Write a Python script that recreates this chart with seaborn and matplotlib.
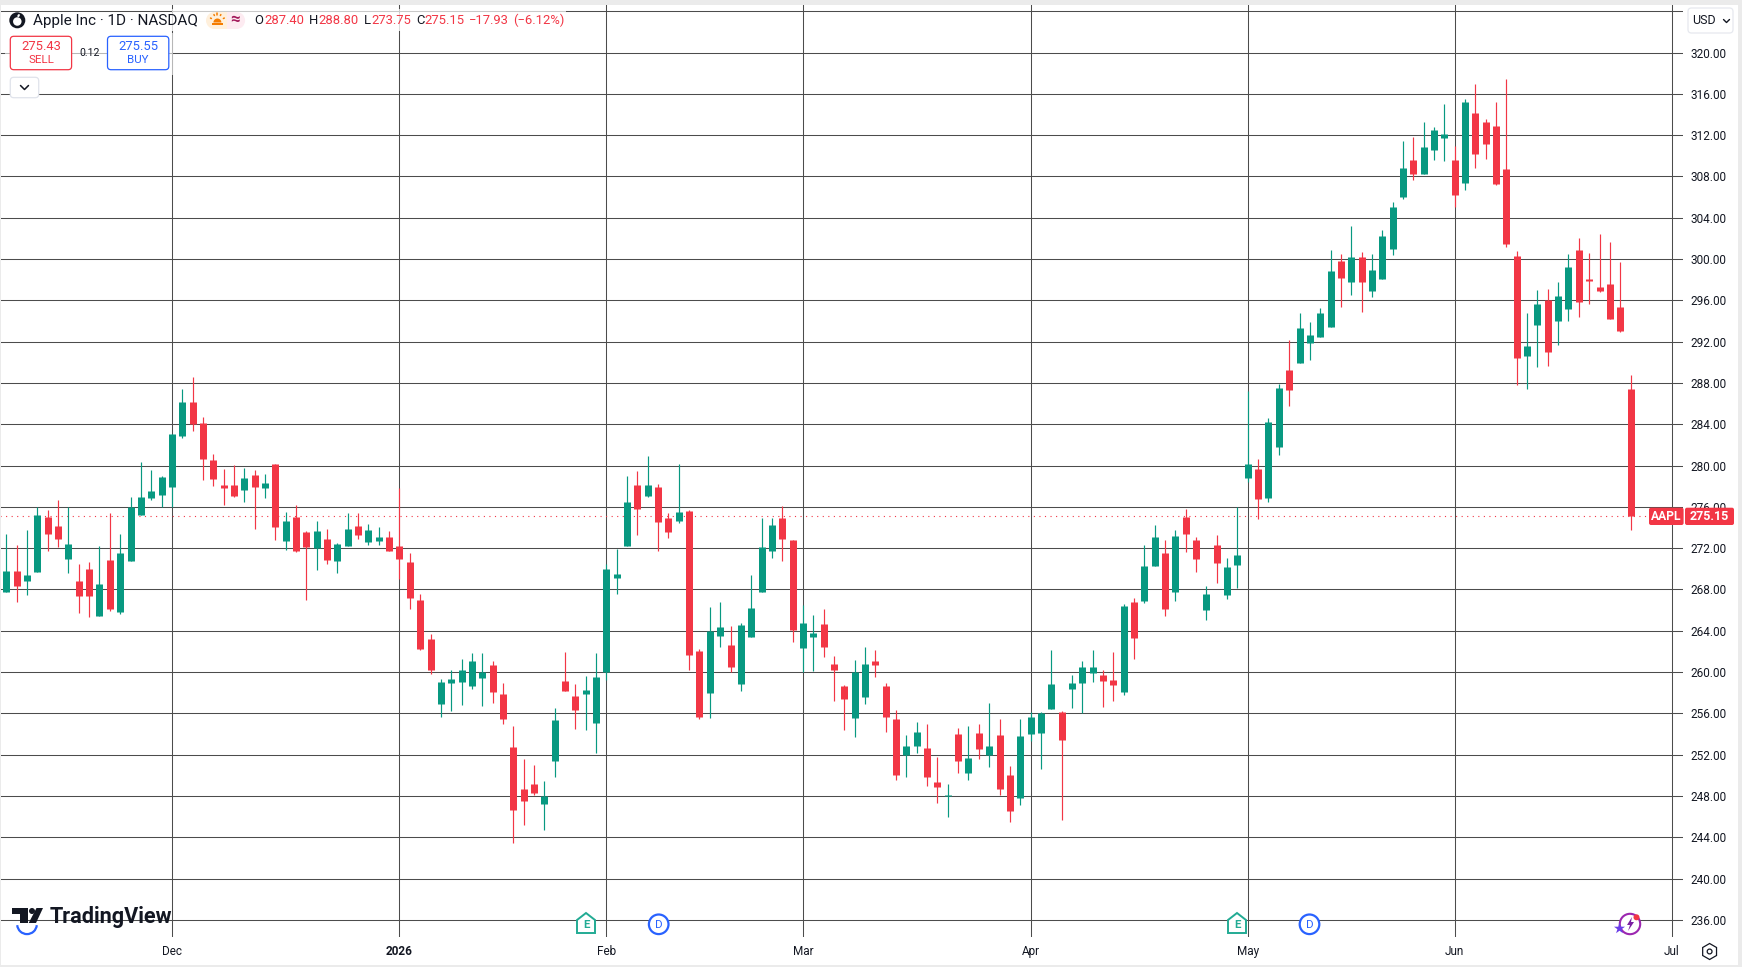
import numpy as np
import pandas as pd
import seaborn as sns
import matplotlib.pyplot as plt
from matplotlib.patches import Rectangle, FancyBboxPatch, Circle, Ellipse, Polygon, Arc, Wedge

# daily AAPL bars, one value per bar
opens = [267.80, 269.83, 268.87, 269.74, 275.06, 274.19, 271.00, 268.87, 270.03, 265.48,
         270.90, 265.86, 270.80, 275.26, 276.90, 277.19, 277.97, 282.91, 286.20, 284.17,
         280.58, 278.16, 278.16, 277.68, 279.13, 277.87, 280.20, 272.74, 275.06, 273.61,
         272.06, 272.93, 270.80, 272.26, 274.19, 272.64, 272.74, 273.13, 272.26, 270.71,
         267.02, 263.25, 256.95, 258.99, 259.08, 258.69, 259.47, 260.73, 257.92, 252.79,
         248.72, 249.20, 247.27, 251.43, 259.18, 257.73, 257.92, 255.11, 260.02, 269.15,
         272.25, 278.16, 277.10, 277.97, 274.97, 274.67, 275.64, 262.08, 258.02, 263.54,
         262.67, 258.89, 263.44, 267.80, 271.77, 274.97, 272.83, 262.37, 263.44, 264.70,
         260.83, 258.70, 255.60, 257.63, 261.12, 258.70, 255.50, 251.98, 252.89, 252.69,
         249.40, 247.97, 254.05, 250.27, 254.15, 251.98, 253.95, 250.08, 247.85, 254.05,
         254.15, 256.47, 256.18, 258.41, 258.99, 259.96, 259.76, 259.28, 258.12, 266.83,
         266.93, 270.32, 271.58, 267.80, 275.06, 272.84, 266.06, 272.35, 267.51, 270.42,
         278.83, 279.71, 276.90, 281.84, 289.30, 289.97, 291.91, 292.49, 293.46, 299.85,
         297.82, 300.24, 296.95, 298.11, 301.01, 306.06, 309.64, 308.28, 310.60, 311.77,
         309.63, 307.41, 314.19, 313.32, 312.93, 308.76, 300.34, 290.65, 293.65, 296.08,
         294.04, 295.20, 300.92, 298.11, 297.33, 297.63, 295.40, 287.40]
highs = [273.42, 272.35, 273.81, 276.00, 275.74, 276.71, 276.00, 270.51, 270.71, 272.26,
         275.45, 273.42, 277.00, 280.39, 279.62, 279.04, 283.10, 287.46, 288.62, 284.75,
         281.17, 279.71, 280.10, 279.81, 279.62, 279.23, 280.20, 275.55, 276.23, 273.71,
         274.68, 273.90, 272.55, 275.45, 275.45, 274.39, 274.10, 273.71, 277.87, 271.58,
         267.60, 263.73, 259.37, 260.24, 261.31, 261.89, 261.89, 261.12, 258.99, 254.82,
         251.62, 251.04, 249.49, 256.56, 261.99, 258.89, 259.66, 261.89, 270.51, 271.96,
         279.03, 279.52, 280.97, 278.26, 275.45, 280.20, 275.74, 262.28, 266.35, 266.83,
         264.51, 264.80, 269.44, 274.97, 274.97, 276.13, 272.83, 266.54, 265.57, 266.15,
         261.60, 258.79, 261.22, 262.47, 262.18, 258.99, 256.37, 253.95, 255.21, 255.02,
         251.82, 249.21, 254.63, 254.82, 255.02, 257.05, 255.50, 250.95, 255.50, 256.18,
         256.18, 262.18, 256.28, 259.76, 261.12, 262.18, 260.25, 261.99, 266.64, 267.22,
         272.35, 274.29, 272.84, 273.81, 275.84, 273.13, 268.38, 273.32, 271.09, 276.00,
         287.26, 280.68, 284.65, 287.94, 292.20, 294.82, 293.94, 295.30, 300.92, 300.53,
         303.24, 300.72, 300.53, 302.85, 305.57, 311.48, 311.87, 313.32, 312.83, 315.06,
         310.99, 315.54, 317.00, 313.61, 315.25, 317.48, 300.82, 294.82, 297.04, 297.14,
         297.82, 300.53, 302.08, 300.63, 302.47, 301.69, 299.76, 288.80]
lows = [267.80, 266.83, 267.51, 269.74, 271.77, 272.16, 269.64, 265.77, 265.38, 265.48,
        265.96, 265.67, 270.80, 275.26, 276.71, 276.00, 276.00, 282.72, 283.39, 278.65,
        278.07, 276.23, 277.00, 276.52, 273.90, 276.90, 272.84, 271.87, 271.67, 267.03,
        269.93, 270.51, 269.64, 272.26, 272.93, 272.35, 272.35, 271.77, 269.06, 266.15,
        262.18, 259.86, 255.69, 256.27, 256.85, 258.40, 256.76, 257.05, 255.01, 243.49,
        245.23, 248.14, 244.75, 249.88, 258.21, 254.53, 254.43, 252.21, 259.28, 267.60,
        272.25, 273.32, 277.00, 271.77, 273.03, 274.48, 260.24, 255.50, 255.59, 262.47,
        260.02, 258.21, 263.44, 267.80, 271.09, 270.80, 262.96, 260.02, 260.15, 261.51,
        257.24, 254.44, 253.76, 256.95, 259.57, 254.24, 249.59, 249.88, 252.21, 249.01,
        247.37, 246.01, 250.27, 249.59, 251.63, 250.85, 248.14, 245.52, 247.17, 253.37,
        250.66, 256.47, 245.72, 256.57, 256.05, 259.08, 256.66, 257.24, 257.83, 261.31,
        266.74, 270.32, 265.48, 266.93, 271.68, 269.74, 265.09, 268.67, 267.12, 268.19,
        278.45, 274.86, 276.51, 281.06, 285.81, 289.97, 290.26, 292.49, 293.46, 295.40,
        296.56, 294.91, 296.37, 298.11, 300.43, 305.86, 307.70, 308.28, 309.63, 309.54,
        305.08, 306.73, 308.86, 309.73, 307.21, 301.21, 287.84, 287.46, 289.59, 289.68,
        291.72, 294.04, 294.43, 295.69, 296.85, 294.24, 292.98, 273.75]
closes = [269.83, 268.38, 269.45, 275.26, 273.42, 272.93, 272.45, 267.41, 267.41, 268.58,
          266.15, 271.58, 276.00, 277.00, 277.58, 278.94, 283.10, 286.20, 284.07, 280.68,
          278.74, 277.87, 277.10, 278.84, 277.97, 278.36, 274.10, 274.68, 271.77, 272.16,
          273.71, 270.90, 272.45, 273.90, 273.32, 273.81, 273.13, 271.77, 271.00, 267.22,
          262.28, 260.24, 259.08, 259.37, 260.24, 261.12, 260.02, 258.11, 255.50, 246.68,
          247.56, 248.33, 248.04, 255.40, 258.21, 256.37, 258.31, 259.57, 270.03, 269.54,
          276.52, 275.84, 278.16, 274.58, 273.61, 275.55, 261.70, 255.69, 263.96, 264.41,
          260.53, 264.60, 266.25, 272.16, 274.29, 272.93, 264.12, 264.80, 263.83, 262.47,
          260.25, 257.44, 260.02, 260.83, 260.73, 255.69, 250.08, 252.89, 254.24, 249.88,
          248.91, 248.07, 251.43, 251.72, 252.60, 252.89, 248.72, 246.59, 253.85, 255.69,
          256.05, 258.89, 253.47, 258.99, 260.54, 260.54, 259.18, 258.79, 266.45, 263.35,
          270.32, 273.13, 266.15, 273.22, 273.42, 271.00, 267.61, 270.61, 270.22, 271.38,
          280.19, 276.80, 284.26, 287.55, 287.36, 293.36, 292.68, 294.82, 298.88, 298.21,
          300.24, 297.82, 298.98, 302.27, 305.08, 308.87, 308.28, 310.89, 312.54, 312.15,
          306.24, 315.25, 310.22, 311.18, 307.31, 301.50, 290.46, 291.62, 295.69, 291.04,
          296.46, 299.27, 295.88, 297.92, 296.95, 294.24, 293.07, 275.15]

month_bars = [16, 38, 58, 77, 99, 120, 140, 161]
month_labels = ['Dec', '2026', 'Feb', 'Mar', 'Apr', 'May', 'Jun', 'Jul']
price_ticks = list(range(236, 328, 4))
last_price = 275.15

GREEN = '#089981'
RED = '#f23645'
BLUE = '#2962ff'
INK = '#131722'
GRID = '#4c4c4c'

sns.set_theme(style='white')
plt.rcParams['font.family'] = ['Roboto', 'DejaVu Sans']

bars = np.arange(len(closes))
direction = np.where(np.array(closes) >= np.array(opens), 'up', 'down')
palette = {'up': GREEN, 'down': RED}
wicks = pd.DataFrame({'bar': np.tile(bars, 2), 'price': lows + highs, 'dir': np.tile(direction, 2)})
bodies = pd.DataFrame({'bar': np.tile(bars, 2), 'price': opens + closes, 'dir': np.tile(direction, 2)})

W, H = 1742, 967
fig = plt.figure(figsize=(W / 100, H / 100), dpi=100, facecolor='white')
ax = fig.add_axes([0, (H - 937) / H, 1683 / W, 933 / H])


def bar_at(px):
    return 16 + (px - 171.9) / 10.345


def price_at(py):
    return 316 - (py - 93.9) / 10.325


ax.hlines(last_price, bar_at(0), bar_at(1683), color=RED, lw=0.8, linestyle=(0, (1, 4)), zorder=1)
sns.lineplot(data=wicks, x='bar', y='price', units='bar', hue='dir', palette=palette, estimator=None,
             sort=False, legend=False, linewidth=0.85, solid_capstyle='butt', zorder=3, ax=ax)
sns.lineplot(data=bodies, x='bar', y='price', units='bar', hue='dir', palette=palette, estimator=None,
             sort=False, legend=False, linewidth=5.04, solid_capstyle='butt', zorder=4, ax=ax)

ax.set_xlim(bar_at(0), bar_at(1683))
ax.set_ylim(price_at(937), price_at(4))
ax.set_xlabel('')
ax.set_ylabel('')
ax.set_xticks(month_bars)
ax.set_xticklabels(month_labels)
ax.set_yticks(price_ticks)
ax.set_yticklabels([f'{p:.2f}' if p < 324 else '' for p in price_ticks])
ax.yaxis.tick_right()
ax.tick_params(axis='y', length=0, pad=5.6, labelsize=8.5, labelcolor=INK)
ax.tick_params(axis='x', length=0, pad=6.0, labelsize=8.5, labelcolor=INK)
ax.get_xticklabels()[1].set_fontweight('bold')
ax.grid(True, color=GRID, lw=0.75)
sns.despine(ax=ax, left=True, bottom=True, top=True, right=True)

# everything around the chart is drawn in pixel coordinates
ov = fig.add_axes([0, 0, 1, 1])
ov.set_xlim(0, W)
ov.set_ylim(H, 0)
ov.axis('off')


def label(x, y, s, size, color=INK, ha='left', weight='normal'):
    ov.text(x, y, s, fontsize=size * 0.72, color=color, ha=ha, va='center', fontweight=weight)


def box(x0, y0, x1, y1, edge, fill='white', lw=0.9, r=3.5):
    ov.add_patch(FancyBboxPatch((x0 + r, y0 + r), x1 - x0 - 2 * r, y1 - y0 - 2 * r,
                                boxstyle=f'round,pad={r}', fc=fill, ec=edge, lw=lw))


# window frame
for rect in [(0, 0, W, 4.5), (0, 0, 1.2, H), (1738, 0, 4, H), (0, 965, W, 2)]:
    ov.add_patch(Rectangle(rect[:2], rect[2], rect[3], fc='#ebebeb', ec='none'))

# legend veil over the grid
ov.add_patch(Rectangle((5, 13), 561, 18, fc='white', ec='none', alpha=0.8))
ov.add_patch(Rectangle((172, 9), 394, 4, fc='white', ec='none', alpha=0.7))
ov.add_patch(Rectangle((5, 33), 168, 42, fc='white', ec='none', alpha=0.6))

# symbol line
ov.add_patch(Circle((17.3, 20.3), 8, fc='#131722', ec='none'))
ov.add_patch(Ellipse((17.3, 21.5), 8.5, 8.5, fc='white', ec='none'))
ov.add_patch(Ellipse((18.6, 15.6), 2.2, 3.2, angle=30, fc='white', ec='none'))
label(32.5, 20.5, 'Apple Inc · 1D · NASDAQ', 15.2)
ov.add_patch(Wedge((214.5, 20.5), 8.5, 90, 270, fc='#fff0dc', ec='none'))
ov.add_patch(Rectangle((214, 12), 12.6, 17, fc='#fff0dc', ec='none'))
ov.add_patch(Rectangle((226.6, 12), 10, 17, fc='#fdebf1', ec='none'))
ov.add_patch(Wedge((236.6, 20.5), 8.5, -90, 90, fc='#fdebf1', ec='none'))
ov.add_patch(Wedge((217.4, 22.5), 4, 180, 360, fc='#f57c00', ec='none'))
ov.add_patch(Rectangle((212, 22.5), 11, 2, fc='#f57c00', ec='none'))
for dx, dy in [(-6, -3), (-3, -6), (0, -7), (3, -6), (6, -3)]:
    ov.plot([217.4 + dx, 217.4 + dx * 1.15], [21.5 + dy, 21.5 + dy * 1.15], color='#f57c00', lw=1.1)
label(235.4, 20, '≈', 17, color='#a3195b', ha='center', weight='bold')
for x, s, c in [(254.5, 'O', INK), (264, '287.40', RED), (309.2, 'H', INK), (318.8, '288.80', RED),
                (364, 'L', INK), (371.2, '273.75', RED), (416, 'C', INK), (424.8, '275.15', RED),
                (469.2, '−17.93', RED), (513.6, '(−6.12%)', RED)]:
    label(x, 20.5, s, 13, color=c)

# sell / buy
box(10.3, 36.3, 71.6, 69.7, RED)
label(41, 46, '275.43', 13, color=RED, ha='center')
label(41, 60, 'SELL', 11.5, color=RED, ha='center')
label(89.2, 52.5, '0.12', 10.5, ha='center')
box(107.5, 36.3, 168.8, 69.7, BLUE)
label(138, 46, '275.55', 13, color=BLUE, ha='center')
label(138, 60, 'BUY', 11.5, color=BLUE, ha='center')
box(10.3, 77.3, 38.7, 97.7, '#e0e3eb')
ov.plot([20.5, 24.5, 28.5], [85.5, 89.5, 85.5], color=INK, lw=1.1)

# currency button
box(1688, 8, 1733, 33, '#e6e8ee')
label(1692, 20.5, 'USD', 12.5)
ov.plot([1723.5, 1726.5, 1729.5], [19.5, 22.5, 19.5], color=INK, lw=1.0)

# last price tags
box(1649, 507.7, 1683.6, 525, RED, fill=RED, lw=0, r=2)
box(1685, 507.7, 1734, 525, RED, fill=RED, lw=0, r=2)
label(1666.3, 516.5, 'AAPL', 12, color='white', ha='center', weight='bold')
label(1709.5, 516.5, '275.15', 12.5, color='white', ha='center', weight='bold')


# event marks on the time line
def earnings(cx):
    pts = [(cx - 9, 920), (cx, 913), (cx + 9, 920), (cx + 9, 933), (cx - 9, 933)]
    ov.add_patch(Polygon(pts, closed=True, fc='white', ec='#22ab94', lw=1.4))
    label(cx, 925.5, 'E', 11.5, color='#22ab94', ha='center', weight='bold')


def dividend(cx):
    ov.add_patch(Circle((cx, 924.3), 9.8, fc='white', ec=BLUE, lw=1.6))
    label(cx, 924.5, 'D', 11.5, color=BLUE, ha='center')


earnings(586)
dividend(658.7)
earnings(1237)
dividend(1309.5)
ov.add_patch(Arc((27, 924.3), 19.6, 19.6, theta1=5, theta2=175, color=BLUE, lw=1.6))

ov.add_patch(Circle((1630, 924), 10.2, fc='white', ec='#9c27b0', lw=1.5))
ov.add_patch(Polygon([(1632, 917), (1627, 925), (1630, 925), (1628, 931), (1634, 922), (1631, 922)],
                     closed=True, fc='#7b1fa2', ec='none'))
ov.add_patch(Circle((1636.5, 917.3), 3, fc=RED, ec='none'))
ov.scatter([1619], [928], marker='*', s=70, color='#6a3de8', linewidths=0)

# settings gear
ang = np.deg2rad(np.arange(30, 390, 60))
ov.add_patch(Polygon(np.c_[1709.6 + 8 * np.cos(ang), 951.5 + 8 * np.sin(ang)], closed=True, fc='white', ec=INK, lw=0.9))
ov.add_patch(Circle((1709.6, 951.5), 2.4, fc='white', ec=INK, lw=0.9))

# logo
ov.add_patch(Polygon([(12.2, 908), (28, 908), (28, 923), (20, 923), (20, 914), (12.2, 914)], closed=True, fc='#131722', ec='none'))
ov.add_patch(Circle((32, 911), 3, fc='#131722', ec='none'))
ov.add_patch(Polygon([(36.5, 908), (43, 908), (36, 923), (28.7, 923)], closed=True, fc='#131722', ec='none'))
label(50, 916.5, 'TradingView', 21.6, color='#131722', weight='bold')

fig.savefig('out.png', dpi=100)
